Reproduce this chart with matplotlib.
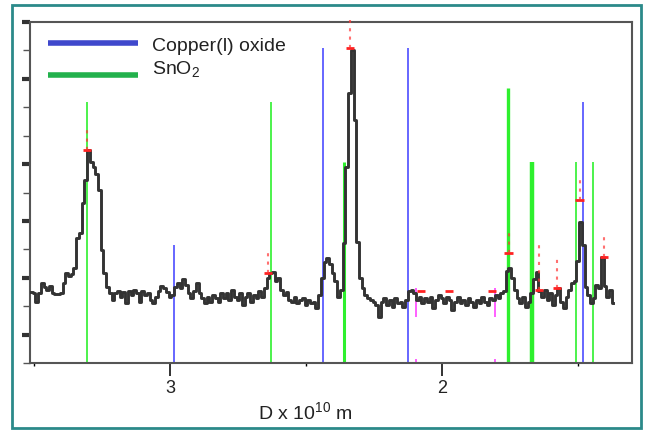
import matplotlib
matplotlib.use("Agg")
import numpy as np
import matplotlib.pyplot as plt
from matplotlib.patches import Rectangle
from matplotlib.ticker import FixedLocator, NullFormatter

plt.rcParams['font.family'] = ['Liberation Sans', 'DejaVu Sans']
plt.rcParams['mathtext.default'] = 'regular'

# measured pattern: d-spacing grid (x 10^10 m) and intensity (a.u.)
d_start, d_step = 3.51, 0.01
intensity = [
    20.8, 20.5, 17.9, 20.5, 23.5, 22.3, 21.5, 22.6, 20.5, 20.2,
    20.2, 20.5, 23.5, 26.4, 25.5, 26.0, 28.0, 36.7, 38.0, 47.0,
    53.7, 62.5, 59.0, 57.5, 55.5, 50.7, 33.0, 26.4, 22.3, 20.5,
    18.5, 20.5, 21.0, 19.5, 20.8, 17.5, 21.0, 20.0, 21.5, 20.5,
    18.0, 21.2, 19.8, 20.5, 18.5, 17.5, 19.5, 21.0, 22.5, 22.0,
    20.8, 19.5, 20.0, 22.3, 23.5, 22.0, 24.5, 23.0, 20.5, 19.0,
    21.0, 23.5, 20.5, 19.0, 17.5, 19.5, 18.0, 19.8, 19.0, 18.0,
    20.5, 19.0, 20.5, 18.5, 21.5, 19.5, 18.5, 20.5, 17.0, 19.5,
    20.5, 18.0, 20.0, 19.0, 21.0, 19.5, 22.0, 25.0, 26.4, 26.8,
    24.0, 24.8, 21.5, 20.0, 20.8, 18.5, 18.0, 19.5, 17.5, 18.5,
    19.0, 17.0, 18.5, 17.5, 18.0, 16.0, 20.0, 25.0, 29.5, 30.8,
    29.0, 26.5, 24.0, 19.5, 21.5, 35.2, 57.5, 79.2, 91.8, 71.3,
    35.5, 25.0, 22.0, 19.8, 19.0, 18.5, 18.0, 17.0, 13.5, 18.0,
    19.0, 17.0, 18.5, 16.5, 19.0, 17.5, 18.0, 16.5, 18.5, 21.0,
    21.5, 20.5, 18.5, 19.5, 17.5, 19.0, 18.0, 19.5, 16.0, 18.5,
    20.0, 19.0, 17.5, 19.5, 18.5, 15.5, 18.0, 19.5, 17.5, 18.5,
    17.0, 19.0, 18.0, 16.5, 18.5, 17.5, 19.5, 18.0, 17.0, 19.0,
    18.5, 20.0, 19.0, 20.5, 21.0, 27.0, 27.9, 25.0, 21.5, 19.0,
    17.5, 19.5, 16.5, 18.0, 20.5, 24.5, 26.7, 21.0, 19.5, 21.5,
    18.5, 20.5, 17.0, 20.0, 22.0, 18.0, 16.0, 19.5, 21.5, 23.5,
    24.0, 30.0, 41.3, 34.6, 22.3, 20.0, 17.5, 19.0, 23.0, 22.0,
    31.0, 22.5, 19.5, 21.5, 17.5,
]

# reference patterns (stick positions and relative heights)
cu2o_d = [2.985, 2.438, 2.125, 1.482]
cu2o_i = [34.6, 92.4, 92.4, 76.6]
sno2_d = [3.305, 2.628, 2.360, 1.758, 1.669, 1.505, 1.443]
sno2_i = [76.6, 76.6, 59.0, 80.6, 59.0, 59.0, 59.0]
sno2_w = [1.2, 1.2, 2.2, 2.4, 3.2, 1.2, 1.2]

# peak-search marks
mark_d = [3.305, 2.640, 2.338, 1.754, 1.643, 1.577, 1.493, 1.404, 2.077, 1.974, 1.816]
mark_i = [62.5, 26.4, 92.4, 32.3, 21.4, 22.0, 47.8, 31.1, 21.1, 21.1, 21.1]
mark_top = [69.8, 33.1, 100.5, 39.6, 34.6, 30.8, 55.1, 38.4, 21.1, 21.1, 21.1]
extra_d = [2.096, 1.805]

legend_labels = ['Copper(l) oxide', 'SnO$_2$']
legend_colors = ['#3f48cc', '#22b14c']

d = d_start - d_step * np.arange(len(intensity))

fig = plt.figure(figsize=(6.46, 4.30), dpi=100)
ax = fig.add_axes([0.0464, 0.1558, 0.9318, 0.793])

ax.vlines(cu2o_d, 0, cu2o_i, color='#5a5aff', lw=1.3, zorder=2)
for x, h, w in zip(sno2_d, sno2_i, sno2_w):
    ax.vlines(x, 0, h, color='#2ef02e', lw=w, zorder=2)

ax.plot(d, intensity, drawstyle='steps-mid', color='#333333', lw=2.1, zorder=3)

ax.vlines(extra_d, 13.5, 22, color='#ff44ff', lw=1.2, zorder=2)
ax.vlines(extra_d, 0, 1.2, color='#ff44ff', lw=1.2, zorder=2)

ax.hlines(mark_i, np.array(mark_d) - 0.016, np.array(mark_d) + 0.016,
          color='#ff2222', lw=2, zorder=4, clip_on=False)
ax.vlines(mark_d, mark_i, mark_top, color='#ff3333', lw=1.5,
          linestyles=(0, (1.5, 2.5)), alpha=0.7, zorder=4, clip_on=False)

ax.set_xlim(3.515, 1.301)
ax.set_ylim(0, 100)

ax.xaxis.set_major_locator(FixedLocator([3, 2]))
ax.xaxis.set_minor_locator(FixedLocator([3.5, 2.5, 1.5]))
ax.set_xticklabels(['3', '2'])
ax.tick_params(axis='x', which='major', direction='out', length=9, width=1.3,
               labelsize=13, pad=3, colors='#222222')
ax.tick_params(axis='x', which='minor', direction='out', length=2.5, width=1)

step = 100 / 12
ax.yaxis.set_major_locator(FixedLocator([k * step for k in (1, 3, 5, 7, 10, 12)]))
ax.yaxis.set_minor_locator(FixedLocator([k * step for k in (0, 2, 4, 6, 8, 9, 11)]))
ax.yaxis.set_major_formatter(NullFormatter())
ax.tick_params(axis='y', which='major', direction='out', length=6, width=3, color='#333333')
ax.tick_params(axis='y', which='minor', direction='out', length=5, width=1, color='#555555')

for s in ax.spines.values():
    s.set_color('#555555')
    s.set_linewidth(1.5)

ax.text(0.457, -0.144, 'D x 10$^{10}$ m', transform=ax.transAxes,
        ha='center', va='center', fontsize=14, color='#222222')

# hand-placed legend (lines and labels are offset as in the original)
for k, (lab, col) in enumerate(zip(legend_labels, legend_colors)):
    ly = 0.938 - 0.094 * k
    ax.plot([0.030, 0.179], [ly, ly], transform=ax.transAxes, color=col, lw=4,
            solid_capstyle='butt')
    ax.text(0.203, 0.929 - 0.068 * k, lab, transform=ax.transAxes,
            ha='left', va='center', fontsize=14, color='#222222')

fig.patches.append(Rectangle((0.0186, 0.0047), 0.974, 0.984, transform=fig.transFigure,
                             fill=False, edgecolor='#2b8a8a', lw=2))

fig.savefig('out.png', dpi=100)
